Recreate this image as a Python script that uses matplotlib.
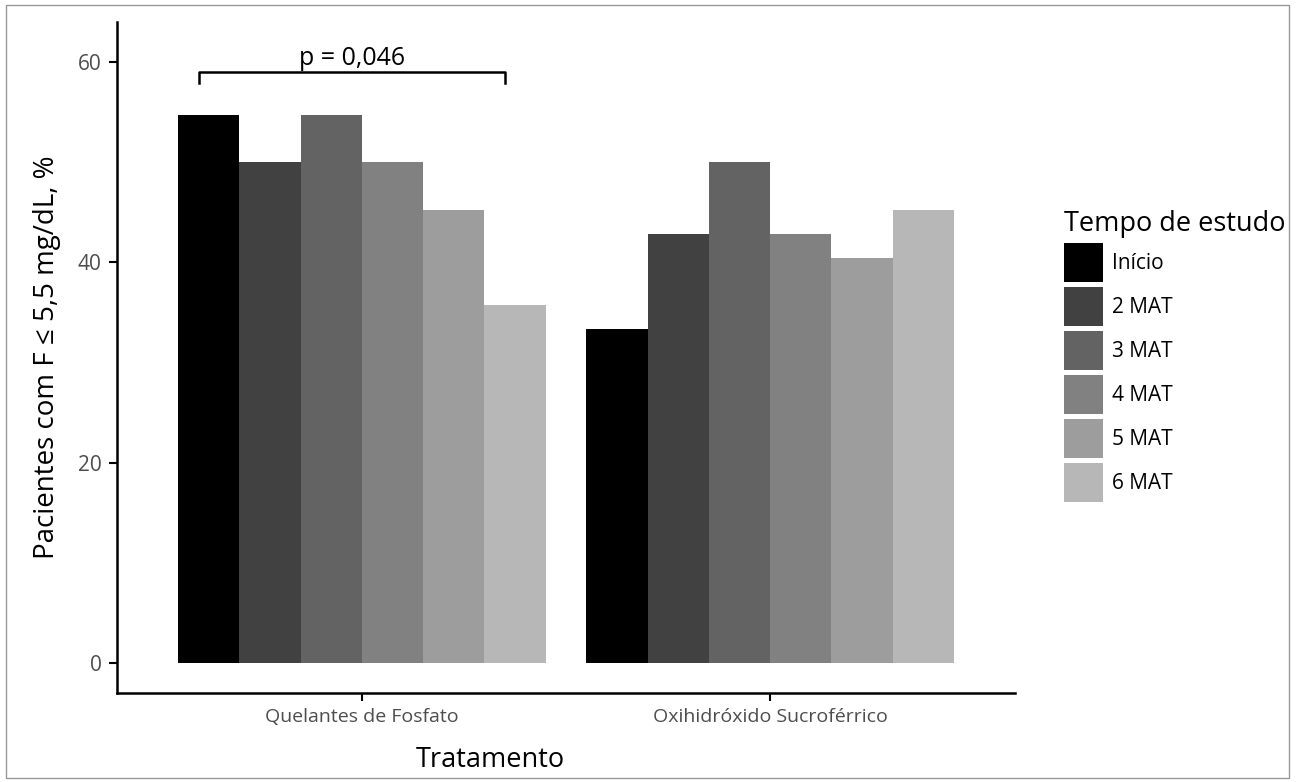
import matplotlib.pyplot as plt
import numpy as np
from matplotlib.patches import Patch, Rectangle

plt.rcParams['font.family'] = ['Open Sans', 'DejaVu Sans']

# dados
tratamentos = ['Quelantes de Fosfato', 'Oxihidróxido Sucroférrico']
tempos = ['Início', '2 MAT', '3 MAT', '4 MAT', '5 MAT', '6 MAT']
quelantes = [54.7, 50.0, 54.7, 50.0, 45.2, 35.7]
oxi = [33.3, 42.8, 50.0, 42.8, 40.4, 45.2]
cores = ['#000000', '#414141', '#636363', '#818181', '#9d9d9d', '#b7b7b7']
p_texto = 'p = 0,046'

fig = plt.figure(figsize=(12.96, 7.82), dpi=100)
ax = fig.add_axes([117 / 1296, 1 - 693 / 782, (1015 - 117) / 1296, (693 - 22) / 782])

x = np.arange(1, 3)
bw = 0.9 / 6
valores = np.array([quelantes, oxi])
for i, t in enumerate(tempos):
    ax.bar(x - 0.45 + bw * (i + 0.5), valores[:, i], bw, color=cores[i], linewidth=0, label=t)

# colchete de significância
ax.plot([0.6, 0.6, 1.35, 1.35], [57.9, 59.0, 59.0, 57.9], color='black', lw=1.8)
ax.text(0.975, 59.1, p_texto, ha='center', va='bottom', fontsize=18)

ax.set_xlim(0.4, 2.6)
ax.set_ylim(-3, 64)
ax.set_xticks(x)
ax.set_xticklabels(tratamentos, fontsize=14, color='#4d4d4d')
ax.set_yticks([0, 20, 40, 60])
ax.set_yticklabels(['0', '20', '40', '60'], fontsize=15, color='#4d4d4d')
ax.tick_params(width=1.5, length=6, pad=5, color='black')
for s in ['top', 'right']:
    ax.spines[s].set_visible(False)
for s in ['left', 'bottom']:
    ax.spines[s].set_linewidth(1.8)
ax.set_ylabel('Pacientes com F ≤ 5,5 mg/dL, %', fontsize=20, labelpad=12)
fig.text(490 / 1296, 1 - 760 / 782, 'Tratamento', fontsize=19.5, ha='center', va='center')

handles = [Patch(facecolor=c, edgecolor='none') for c in cores]
leg = fig.legend(handles, tempos, title='Tempo de estudo', loc='upper left',
                 bbox_to_anchor=(1064 / 1296, 1 - 210 / 782), frameon=False,
                 fontsize=15, title_fontsize=19.5, handlelength=1.85, handleheight=2.5,
                 labelspacing=0.24, handletextpad=0.45, borderpad=0, borderaxespad=0)
leg._legend_box.align = 'left'

# moldura da figura
fig.patches.append(Rectangle((6 / 1296, 4 / 782), 1283 / 1296, 773 / 782, fill=False,
                             edgecolor='#999999', lw=1, transform=fig.transFigure))

fig.savefig('out.png', dpi=100)
